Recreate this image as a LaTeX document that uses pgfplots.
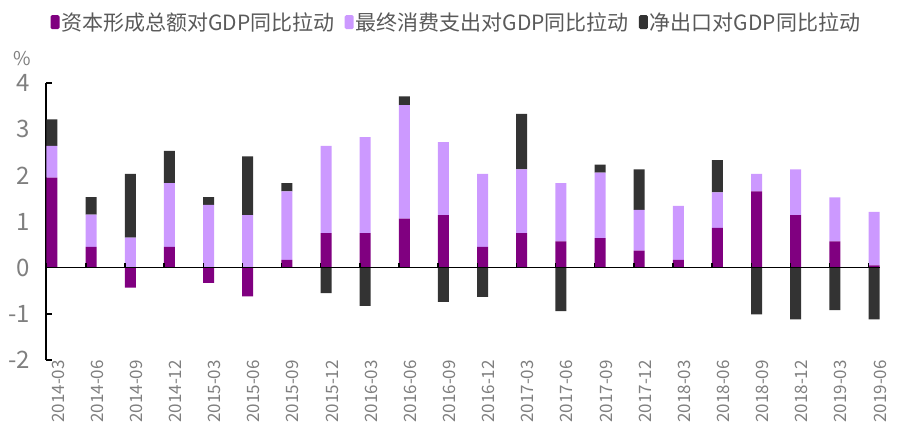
\documentclass[border=0pt]{standalone}
\usepackage{pgfplots}
\usepackage{pgfplotstable}
\pgfplotsset{compat=1.18}
\usepackage{fontspec}
\setmainfont{Noto Sans CJK SC}

\definecolor{capc}{HTML}{800080}
\definecolor{conc}{HTML}{CC99FF}
\definecolor{netc}{HTML}{333333}
\definecolor{tickc}{HTML}{7F7F7F}
\definecolor{legc}{HTML}{595959}

% contributions to GDP growth (percentage points)
\pgfplotstableread{
x   cap    cons   net
0   1.95   0.69   0.57
1   0.45   0.70   0.38
2  -0.43   0.65   1.38
3   0.45   1.38   0.70
4  -0.33   1.36   0.17
5  -0.62   1.14   1.27
6   0.17   1.48   0.18
7   0.75   1.89  -0.55
8   0.75   2.08  -0.83
9   1.06   2.46   0.19
10  1.14   1.58  -0.74
11  0.45   1.58  -0.63
12  0.75   1.38   1.20
13  0.57   1.26  -0.94
14  0.64   1.42   0.17
15  0.37   0.88   0.88
16  0.17   1.17   0.00
17  0.86   0.77   0.70
18  1.65   0.38  -1.01
19  1.14   0.99  -1.12
20  0.57   0.95  -0.92
21  0.05   1.16  -1.12
}\gdp

\begin{document}
\begin{tikzpicture}
\useasboundingbox (0,0) rectangle (907pt,436pt);
\pgfplotsset{base/.style={
    scale only axis, width=834pt, height=277pt,
    at={(46pt,76pt)}, anchor=south west,
    xmin=-0.153, xmax=21.153, ymin=-2, ymax=4,
    ybar stacked, bar width=11pt,
}}

% positive parts, y axis, labels, legend
\begin{axis}[base,
    clip=false,
    axis y line=left, axis x line=bottom,
    axis line style={-},
    x axis line style={draw=none},
    y axis line style={black, line width=1.4pt},
    xtick={0,...,21},
    xticklabels={2014-03,2014-06,2014-09,2014-12,2015-03,2015-06,2015-09,2015-12,
                 2016-03,2016-06,2016-09,2016-12,2017-03,2017-06,2017-09,2017-12,
                 2018-03,2018-06,2018-09,2018-12,2019-03,2019-06},
    x tick style={draw=none},
    xticklabel style={rotate=90, anchor=east, inner sep=0pt, yshift=-6pt, xshift=3pt,
        font=\fontsize{17}{17}\selectfont, text=tickc},
    ytick={-2,-1,0,1,2,3,4},
    ytick align=inside,
    y tick style={black, line width=1.4pt},
    major tick length=6pt,
    /pgf/number format/assume math mode=true,
    yticklabel style={inner sep=0pt, xshift=-16pt, anchor=east,
        font=\fontsize{24}{24}\selectfont, text=tickc},
    legend columns=3,
    legend style={draw=none, fill=none, at={(0.492,1.22)}, anchor=center,
        font=\fontsize{21}{21}\selectfont, text=legc,
        /tikz/every even column/.append style={column sep=8pt}},
    legend image code/.code={\fill[#1, rounded corners=1.5pt] (0pt,-7pt) rectangle (9pt,7pt);},
]
\addplot[fill=capc, draw=none] table[x=x, y expr={max(\thisrow{cap},0)}] {\gdp};
\addlegendentry{资本形成总额对GDP同比拉动}
\addplot[fill=conc, draw=none] table[x=x, y expr={max(\thisrow{cons},0)}] {\gdp};
\addlegendentry{最终消费支出对GDP同比拉动}
\addplot[fill=netc, draw=none] table[x=x, y expr={max(\thisrow{net},0)}] {\gdp};
\addlegendentry{净出口对GDP同比拉动}
\node[font=\fontsize{19}{19}\selectfont, text=tickc] at (axis description cs:-0.029,1.087) {\%};
\end{axis}

% negative parts, zero line with small ticks
\begin{axis}[base,
    axis on top,
    axis x line=middle, hide y axis,
    axis line style={-, black, line width=1.4pt},
    xtick={-0.136,0.864,...,20.9},
    xticklabels={},
    xtick align=inside,
    x tick style={black, line width=1.4pt},
    major tick length=5pt,
]
\addplot[fill=capc, draw=none] table[x=x, y expr={min(\thisrow{cap},0)}] {\gdp};
\addplot[fill=netc, draw=none] table[x=x, y expr={min(\thisrow{net},0)}] {\gdp};
\end{axis}
\end{tikzpicture}
\end{document}
